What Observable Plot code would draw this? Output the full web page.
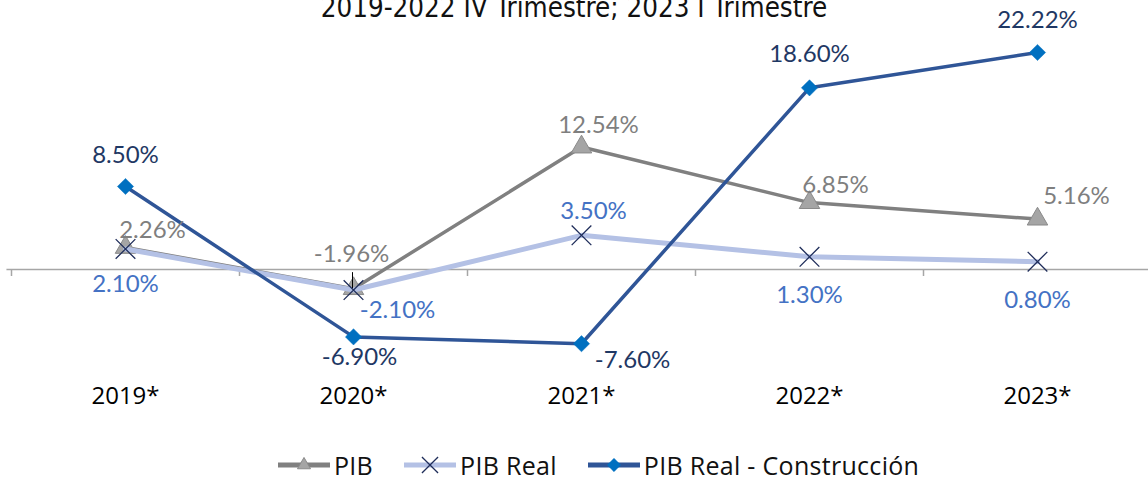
<!DOCTYPE html>
<html>
<head>
<meta charset="utf-8">
<script src="https://cdn.jsdelivr.net/npm/d3@7"></script>
<script src="https://cdn.jsdelivr.net/npm/@observablehq/plot@0.6"></script>
<style>
  html, body { margin: 0; padding: 0; background: #fff; }
  #wrap { position: relative; width: 1148px; height: 479px; overflow: hidden; }
  #title { position: absolute; left: 0; width: 1148px; top: -8px; text-align: center;
           font-family: "Liberation Sans Narrow", "DejaVu Sans Condensed", sans-serif; font-size: 27.5px; line-height: 30px; color: #111; }
  #chart { position: absolute; left: 0; top: 0; }
  #legend { position: absolute; left: 277px; top: 451px; height: 28px; display: flex; align-items: center;
            font-family: "Open Sans", sans-serif; font-size: 25px; line-height: 26px; letter-spacing: 0.3px; color: #111; }
  #legend .item { display: flex; align-items: center; margin-right: 30px; }
  #legend svg { margin-right: 3px; }
</style>
</head>
<body>
<div id="wrap">
  <div id="title">2019-2022 IV Trimestre; 2023 I Trimestre</div>
  <div id="chart"></div>
  <div id="legend"></div>
</div>
<script>
// ---- Data ----
const years = ["2019*", "2020*", "2021*", "2022*", "2023*"];
const seriesNames = ["PIB", "PIB Real", "PIB Real - Construcción"];
const pib = [2.26, -1.96, 12.54, 6.85, 5.16];
const pibReal = [2.10, -2.10, 3.50, 1.30, 0.80];
const construccion = [8.50, -6.90, -7.60, 18.60, 22.22];

// ---- Drawing ----
const fmt = v => v.toFixed(2) + "%";
const idx = d3.range(years.length);
const labelFont = "Lato, 'Open Sans', sans-serif";
const pxPerUnit = 9.766;
const zeroY = 269;

const series = [
  {name: seriesNames[0], values: pib, line: "#808080", width: 3.5, labelColor: "#7f7f7f",
   symbol: "triangle", r: 7.6, fill: "#a5a5a5", stroke: "#8a8a8a", sw: 1,
   offsets: [[27, -17], [-2, -34], [17, -22], [26, -17], [39, -23]]},
  {name: seriesNames[1], values: pibReal, line: "#b4c1e5", width: 5, labelColor: "#4472c4",
   symbol: "times", r: 9, fill: "none", stroke: "#1f2d5a", sw: 1.3,
   offsets: [[0, 35], [44, 20], [12, -24], [0, 39], [0, 39]]},
  {name: seriesNames[2], values: construccion, line: "#2f5597", width: 3.5, labelColor: "#1f3864",
   symbol: "diamond2", r: 7.3, fill: "#0070c0", stroke: "#0070c0", sw: 0.5,
   offsets: [[0, -31], [6, 20], [51, 17], [0, -34], [0, -32]]}
];

const marks = [
  Plot.ruleY([0], {x1: -0.52, x2: 4.5, stroke: "#a6a6a6", strokeWidth: 1.5}),
  Plot.ruleX(idx.map(i => i - 0.5), {x: d => d, y1: 0, y2: 0, insetBottom: -7, stroke: "#a6a6a6", strokeWidth: 1.5}),
  Plot.axisX({ticks: idx, tickFormat: i => years[i], tickSize: 0, tickPadding: 6,
              fontSize: 24, fontFamily: "'Open Sans', sans-serif", fill: "#000", label: null})
];

for (const s of series) {
  marks.push(Plot.line(idx, {x: i => i, y: i => s.values[i], stroke: s.line, strokeWidth: s.width, strokeLinejoin: "round"}));
  marks.push(Plot.dot(idx, {x: i => i, y: i => s.values[i], symbol: s.symbol, r: s.r, fill: s.fill, stroke: s.stroke, strokeWidth: s.sw}));
}
// leader line for the PIB 2020 label
marks.push(Plot.ruleX([1], {x: i => i, y1: i => pib[i], y2: i => pib[i], insetTop: -16, dx: -1, stroke: "#000", strokeWidth: 1}));

for (const s of series) {
  idx.forEach(i => {
    const [dx, dy] = s.offsets[i];
    marks.push(Plot.text([i], {x: d => d, y: d => s.values[d], text: d => fmt(s.values[d]), dx, dy,
      fill: s.labelColor, fontSize: 24, fontFamily: labelFont, textAnchor: "middle", lineAnchor: "middle"}));
  });
}

const chart = Plot.plot({
  width: 1148,
  height: 440,
  marginTop: 0, marginLeft: 0, marginRight: 0, marginBottom: 60,
  x: {type: "linear", domain: [-0.5, 4.5], range: [11, 1151], axis: null},
  y: {type: "linear", domain: [-10, 25], range: [zeroY + 10 * pxPerUnit, zeroY - 25 * pxPerUnit], axis: null},
  style: {background: "transparent", overflow: "visible"},
  marks
});
document.getElementById("chart").appendChild(chart);

// ---- Legend ----
const legend = document.getElementById("legend");
series.forEach(s => {
  const item = document.createElement("div");
  item.className = "item";
  const sw = d3.create("svg").attr("width", 54).attr("height", 20);
  sw.append("line").attr("x1", 1).attr("x2", 53).attr("y1", 10).attr("y2", 10)
    .attr("stroke", s.line).attr("stroke-width", 5);
  const sym = {triangle: d3.symbolTriangle2, times: d3.symbolTimes, diamond2: d3.symbolDiamond2}[s.symbol];
  const rr = s.r * 0.82;
  sw.append("path").attr("transform", "translate(27,10)")
    .attr("d", d3.symbol(sym, Math.PI * rr * rr)())
    .attr("fill", s.fill).attr("stroke", s.stroke).attr("stroke-width", s.sw);
  item.appendChild(sw.node());
  const t = document.createElement("span");
  t.textContent = s.name;
  item.appendChild(t);
  legend.appendChild(item);
});
</script>
</body>
</html>
